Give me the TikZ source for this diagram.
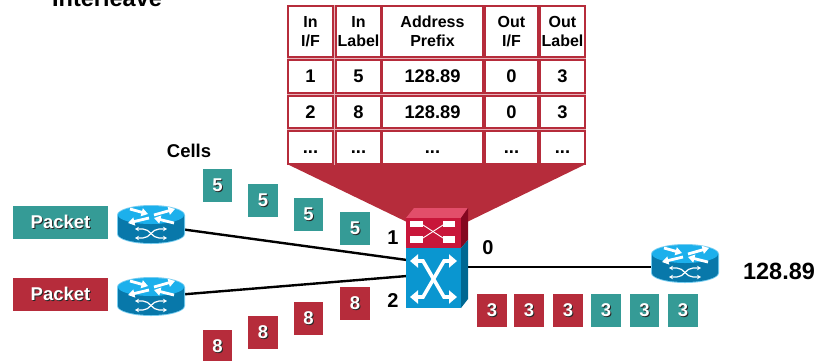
\documentclass[tikz,border=0pt]{standalone}
\usepackage{fontspec}
\setmainfont{Liberation Sans}
\usepackage{tikz}
\usetikzlibrary{arrows.meta}
\definecolor{cellred}{HTML}{B62C3B}
\definecolor{cellteal}{HTML}{359B96}
\definecolor{gaprose}{HTML}{E6B4BA}
\newcommand{\shadowed}[1]{\makebox[0pt][l]{\hspace{1pt}\raisebox{-1pt}{\textcolor{black!85}{#1}}}\textcolor{white}{#1}}
\newcommand{\gapdots}{\vphantom{1}...}
\tikzset{
  tblcell/.style={draw=cellred,fill=white,line width=2.2pt,inner sep=0pt,align=center,text=black,font=\fontsize{18.3}{20}\selectfont\bfseries},
  tblhead/.style={tblcell,font=\fontsize{16}{19.5}\selectfont\bfseries},
  tag/.style={text=black,font=\fontsize{18.5}{20}\selectfont\bfseries},
  teal cell/.style={fill=cellteal,minimum width=29.5pt,minimum height=33pt,inner sep=0pt,font=\fontsize{18.5}{20}\selectfont\bfseries},
  red cell/.style={teal cell,fill=cellred},
  teal packet/.style={teal cell,minimum width=95pt},
  red packet/.style={teal packet,fill=cellred},
  routerbox/.style={minimum width=66pt,minimum height=38pt,inner sep=0pt},
  link/.style={draw=black,line width=2.4pt},
  router/.pic={
    \fill[fill={rgb,255:red,120;green,205;blue,240}] (-34,0) -- (-34,19) arc[start angle=180,end angle=0,x radius=34,y radius=10] -- (34,0) arc[start angle=0,end angle=-180,x radius=34,y radius=10] -- cycle;
    \fill[fill={rgb,255:red,8;green,120;blue,170}] (-33,0) -- (-33,19) arc[start angle=180,end angle=0,x radius=33,y radius=9] -- (33,0) -- cycle;
    \fill[fill={rgb,255:red,28;green,176;blue,236}] (0,0) ellipse[x radius=33,y radius=9];
    \draw[white,line width=2.8pt,-{Triangle[length=6.5pt,width=8pt]}] (-21,-6) -- (-3,-1);
    \draw[white,line width=2.8pt,-{Triangle[length=6.5pt,width=8pt]}] (3,0) -- (24,-6);
    \draw[white,line width=2.8pt,-{Triangle[length=6.5pt,width=8pt]}] (-2,3) -- (-23,8);
    \draw[white,line width=2.8pt,-{Triangle[length=6.5pt,width=8pt]}] (23,8) -- (3,3);
    \draw[white,line width=1.2pt,{Stealth[length=4pt,width=4.5pt]}-{Stealth[length=4pt,width=4.5pt]}] (-16,14) -- (-8,14) .. controls (-1,14) and (1,23) .. (8,23) -- (16,23);
    \draw[white,line width=1.2pt,{Stealth[length=4pt,width=4.5pt]}-{Stealth[length=4pt,width=4.5pt]}] (-16,23) -- (-8,23) .. controls (-1,23) and (1,14) .. (8,14) -- (16,14);
  }
}
\begin{document}
\begin{tikzpicture}[x=1pt,y=-1pt]
\useasboundingbox (0,0) rectangle (817,360);
\clip (0,0) rectangle (817,360);
% table and funnel
\fill[cellred] (287,164) -- (586,164) -- (467,222) -- (407,222) -- cycle;
\fill[gaprose] (287,5) rectangle (586,165);
\begin{scope}
    \node[tblhead,minimum width=45pt,minimum height=51pt] (h1) at (310.5,31.5) {\raisebox{-1.5pt}{In}\\\raisebox{-1.5pt}{I/F}};
    \node[tblhead,minimum width=45pt,minimum height=51pt] (h2) at (358.5,31.5) {\raisebox{-1.5pt}{In}\\\raisebox{-1.5pt}{Label}};
    \node[tblhead,minimum width=101pt,minimum height=51pt] (h3) at (432.5,31.5) {\raisebox{-1.5pt}{Address}\\\raisebox{-1.5pt}{Prefix}};
    \node[tblhead,minimum width=53pt,minimum height=51pt] (h4) at (511.5,31.5) {\raisebox{-1.5pt}{Out}\\\raisebox{-1.5pt}{I/F}};
    \node[tblhead,minimum width=45pt,minimum height=51pt] (h5) at (562.5,31.5) {\raisebox{-1.5pt}{Out}\\\raisebox{-1.5pt}{Label}};

    \node[tblcell,minimum width=45pt,minimum height=33pt] (a1) at (310.5,76.5) {1};
    \node[tblcell,minimum width=45pt,minimum height=33pt] (a2) at (358.5,76.5) {5};
    \node[tblcell,minimum width=101pt,minimum height=33pt] (a3) at (432.5,76.5) {128.89};
    \node[tblcell,minimum width=53pt,minimum height=33pt] (a4) at (511.5,76.5) {0};
    \node[tblcell,minimum width=45pt,minimum height=33pt] (a5) at (562.5,76.5) {3};

    \node[tblcell,minimum width=45pt,minimum height=32pt] (b1) at (310.5,112) {2};
    \node[tblcell,minimum width=45pt,minimum height=32pt] (b2) at (358.5,112) {8};
    \node[tblcell,minimum width=101pt,minimum height=32pt] (b3) at (432.5,112) {128.89};
    \node[tblcell,minimum width=53pt,minimum height=32pt] (b4) at (511.5,112) {0};
    \node[tblcell,minimum width=45pt,minimum height=32pt] (b5) at (562.5,112) {3};

    \node[tblcell,minimum width=45pt,minimum height=33pt] (c1) at (310.5,147.5) {\gapdots};
    \node[tblcell,minimum width=45pt,minimum height=33pt] (c2) at (358.5,147.5) {\gapdots};
    \node[tblcell,minimum width=101pt,minimum height=33pt] (c3) at (432.5,147.5) {\gapdots};
    \node[tblcell,minimum width=53pt,minimum height=33pt] (c4) at (511.5,147.5) {\gapdots};
    \node[tblcell,minimum width=45pt,minimum height=33pt] (c5) at (562.5,147.5) {\gapdots};
\end{scope}
% routers
\node[routerbox] (r1) at (151,225) {};
\node[routerbox] (r2) at (151,297) {};
\node[routerbox] (r3) at (685,265) {};
\node[inner sep=0pt,minimum width=55pt,minimum height=60pt] (sw) at (433.5,278) {};
\coordinate (in1) at (407,260);
\coordinate (in2) at (407,276);
\coordinate (out0) at (467,267);
\path [link] (r1) edge (in1);
\path [link] (r2) edge (in2);
\path [link] (out0) edge (out0 -| r3.west);
\pic at (151,215) {router};
\pic at (151,287) {router};
\pic at (685,254) {router};
% switch
\fill[fill={rgb,255:red,226;green,78;blue,106}] (406,218) -- (414,208) -- (468,208) -- (461,218) -- cycle;
\fill[fill={rgb,255:red,200;green,22;blue,58}] (406,218) rectangle (461,248);
\fill[fill={rgb,255:red,132;green,8;blue,32}] (461,218) -- (468,208) -- (468,240) -- (461,248) -- cycle;
\fill[fill={rgb,255:red,10;green,150;blue,208}] (406,248) rectangle (461,308);
\fill[fill={rgb,255:red,0;green,104;blue,146}] (461,248) -- (468,240) -- (468,299) -- (461,308) -- cycle;
\fill[white] (410,221) rectangle (423,227);
\fill[white] (443,221) rectangle (455,227);
\fill[white] (410,236) rectangle (423,243);
\fill[white] (443,236) rectangle (455,243);
\draw[white,line width=.9pt] (423,225) -- (443,238);
\draw[white,line width=.9pt] (423,238) -- (443,225);
\draw[white,line width=3.6pt,{Triangle[length=8pt,width=13pt]}-{Triangle[length=8pt,width=13pt]}] (410,261) -- (423,261) -- (444,297) -- (457,297);
\draw[white,line width=3.6pt,{Triangle[length=8pt,width=13pt]}-{Triangle[length=8pt,width=13pt]}] (410,297) -- (423,297) -- (444,261) -- (457,261);
% packets and cells
\node[teal packet] (p1) at (60.5,222.5) {\shadowed{Packet}};
\node[red packet] (p2) at (60.5,294.5) {\shadowed{Packet}};
\node[teal cell] (t1) at (217.5,185.5) {\shadowed{5}};
\node[teal cell] (t2) at (263,200.5) {\shadowed{5}};
\node[teal cell] (t3) at (308.5,214.5) {\shadowed{5}};
\node[teal cell] (t4) at (355,228.5) {\shadowed{5}};
\node[red cell] (e1) at (355,303.5) {\shadowed{8}};
\node[red cell] (e2) at (308.5,318.5) {\shadowed{8}};
\node[red cell] (e3) at (263,332.5) {\shadowed{8}};
\node[red cell] (e4) at (217.5,346.5) {\shadowed{8}};
\node[red cell] (o1) at (492,310.5) {\shadowed{3}};
\node[red cell] (o2) at (529,310.5) {\shadowed{3}};
\node[red cell] (o3) at (568,310.5) {\shadowed{3}};
\node[teal cell] (o4) at (606,310.5) {\shadowed{3}};
\node[teal cell] (o5) at (644.5,310.5) {\shadowed{3}};
\node[teal cell] (o6) at (683,310.5) {\shadowed{3}};
% labels
\node[tag,anchor=base west,inner sep=0pt] (title) at (52,6) {\fontsize{23.5}{25}\selectfont Interleave};
\node[tag] (cells) at (189,151) {Cells};
\node[tag,font=\fontsize{20}{22}\selectfont\bfseries] (if1) at (393,238) {1};
\node[tag,font=\fontsize{20}{22}\selectfont\bfseries] (if2) at (393,301) {2};
\node[tag,font=\fontsize{20}{22}\selectfont\bfseries] (if0) at (488,248) {0};
\node[tag,font=\fontsize{23.5}{25}\selectfont\bfseries] (prefix) at (779,271) {128.89};
\end{tikzpicture}
\end{document}
